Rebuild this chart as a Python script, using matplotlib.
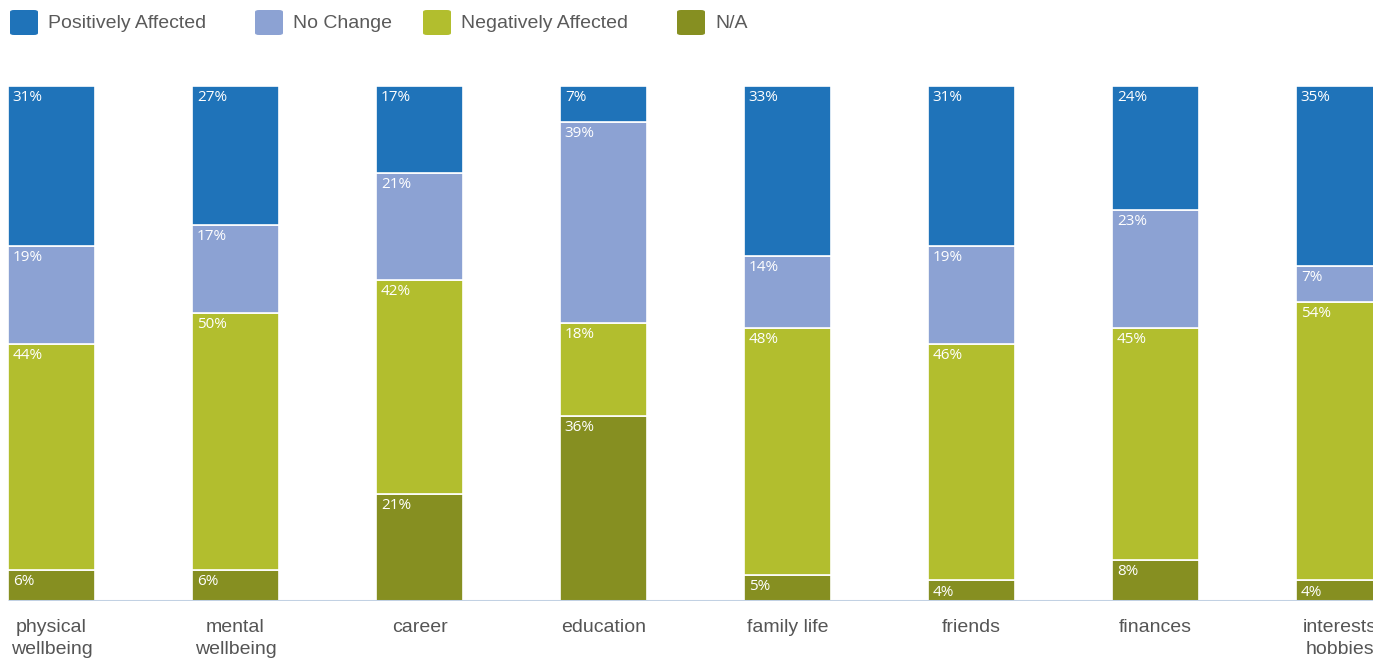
import numpy as np
import matplotlib.pyplot as plt
from matplotlib.patches import FancyBboxPatch

categories = ["physical\nwellbeing", "mental\nwellbeing", "career", "education",
              "family life", "friends", "finances", "interests\nhobbies"]
positive = [31, 27, 17, 7, 33, 31, 24, 35]
no_change = [19, 17, 21, 39, 14, 19, 23, 7]
negative = [44, 50, 42, 18, 48, 46, 45, 54]
na = [6, 6, 21, 36, 5, 4, 8, 4]

series_names = ["Positively Affected", "No Change", "Negatively Affected", "N/A"]
colors = ["#1f73b9", "#8ca2d3", "#b2be2e", "#868f21"]

plt.rcParams["font.family"] = ["Liberation Sans", "DejaVu Sans"]

fig = plt.figure(figsize=(13.73, 6.59), dpi=100)
ax = fig.add_axes([0, 58 / 659, 1, 515 / 659])

x = np.arange(len(categories))
width = 0.473
# stacked from bottom: N/A, negative, no change, positive
stack = [na, negative, no_change, positive]
stack_colors = [colors[3], colors[2], colors[1], colors[0]]
totals = np.array(positive) + np.array(no_change) + np.array(negative) + np.array(na)

bottom = np.zeros(len(categories))
for vals, col in zip(stack, stack_colors):
    vals = np.array(vals, dtype=float)
    h = vals / totals * 100
    ax.bar(x, h, width, bottom=bottom, color=col, edgecolor="white", linewidth=1.2)
    for xi, b, hi, v in zip(x, bottom, h, vals):
        ax.annotate(f"{int(v)}%", (xi - width / 2, b + hi), xytext=(3.5, -3),
                    textcoords="offset points", ha="left", va="top",
                    color="white", fontsize=11, family=["Open Sans", "DejaVu Sans"])
    bottom += h

ax.set_xlim(-0.28, 7.182)
ax.set_ylim(0, 100)
ax.hlines(0, -width / 2, 7.5, color="#c2d1e3", linewidth=2.2, zorder=3)
for s in ax.spines.values():
    s.set_visible(False)
ax.set_yticks([])
ax.set_xticks(x)
ax.set_xticklabels(categories, fontsize=14, color="#555555", linespacing=1.4)
ax.tick_params(axis="x", length=0, pad=13)

# legend drawn across the top
leg_x = [10, 255, 423, 677]
for lx, name, col in zip(leg_x, series_names, colors):
    fig.patches.append(FancyBboxPatch((lx / 1373, (659 - 35) / 659), 28 / 1373, 25 / 659,
                                      boxstyle="round,pad=0,rounding_size=0.003",
                                      transform=fig.transFigure, facecolor=col,
                                      edgecolor="none"))
    fig.text((lx + 38) / 1373, (659 - 23) / 659, name, fontsize=14, color="#5a5a5a",
             va="center", ha="left")

fig.savefig("out.png", dpi=100)
